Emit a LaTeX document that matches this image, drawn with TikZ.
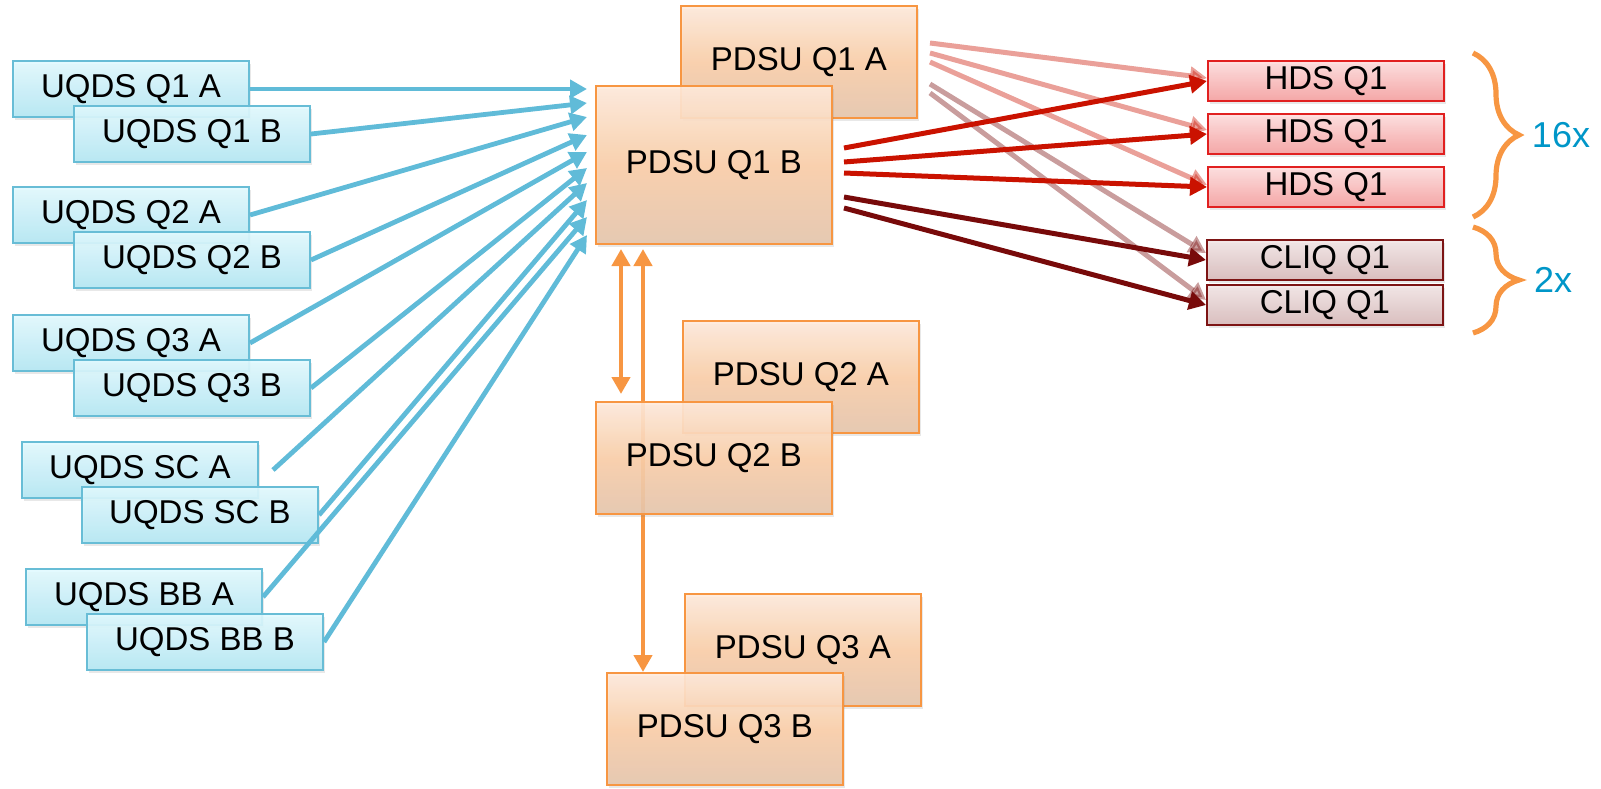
\documentclass[tikz,border=0pt]{standalone}
\usepackage{fontspec}
\setmainfont{Liberation Sans}
\usepackage{tikz}
\usetikzlibrary{arrows.meta,calc,positioning,shadows,backgrounds,decorations.pathreplacing}

\definecolor{uqtop}{RGB}{226,250,255}
\definecolor{uqbot}{RGB}{180,232,244}
\definecolor{uqedge}{RGB}{104,189,214}
\definecolor{uqline}{RGB}{96,187,216}
\definecolor{pdtop}{RGB}{255,235,220}
\definecolor{pdmid}{RGB}{251,206,168}
\definecolor{pdbot}{RGB}{230,198,172}
\definecolor{pdedge}{RGB}{247,150,66}
\definecolor{hdtop}{RGB}{255,222,222}
\definecolor{hdbot}{RGB}{246,160,160}
\definecolor{hdedge}{RGB}{225,32,32}
\definecolor{cqtop}{RGB}{243,230,230}
\definecolor{cqbot}{RGB}{216,186,186}
\definecolor{cqedge}{RGB}{125,20,20}
\definecolor{redline}{RGB}{202,18,0}
\definecolor{darkline}{RGB}{120,10,10}
\definecolor{cnttext}{RGB}{0,150,200}

\tikzset{
  box/.style={draw,line width=1pt,inner sep=0pt,fill opacity=0.9,text opacity=1,
              font=\fontsize{16.5}{19}\selectfont,
              drop shadow={opacity=0.18,shadow xshift=1.2pt,shadow yshift=-1.5pt}},
  uqds/.style={box,draw=uqedge,top color=uqtop,bottom color=uqbot,
               minimum width=118pt,minimum height=28pt},
  pdsu/.style={box,draw=pdedge,top color=pdtop,bottom color=pdbot,middle color=pdmid,
               minimum width=118pt,minimum height=56pt},
  hds/.style={box,draw=hdedge,top color=hdtop,bottom color=hdbot,
              minimum width=118pt,minimum height=20pt},
  cliq/.style={box,draw=cqedge,top color=cqtop,bottom color=cqbot,
               minimum width=118pt,minimum height=20pt},
  tip/.style={-{Triangle[length=8.5pt,width=9pt]}},
  uqarrow/.style={tip,uqline,line width=2.4pt},
  redarrow/.style={tip,redline,line width=2.5pt},
  darkarrow/.style={tip,darkline,line width=2.5pt},
  linkarrow/.style={{Triangle[length=8.5pt,width=9pt]}-{Triangle[length=8.5pt,width=9pt]},
                    pdedge,line width=2.4pt},
  brc/.style={decorate,decoration={brace,amplitude=23pt},pdedge,line width=2.6pt},
  cnt/.style={cnttext,font=\fontsize{18}{21}\selectfont}
}

\begin{document}
\begin{tikzpicture}[x=0.5pt,y=-0.5pt]
\useasboundingbox (0,0) rectangle (1601,788);
%
% UQDS boards
  \node[uqds] (q1a) at (131,89)  {UQDS Q1 A} ;
  \node[uqds] (q1b) at (192,134) {UQDS Q1 B} ;
  \node[uqds] (q2a) at (131,215) {UQDS Q2 A} ;
  \node[uqds] (q2b) at (192,260) {UQDS Q2 B} ;
  \node[uqds] (q3a) at (131,343) {UQDS Q3 A} ;
  \node[uqds] (q3b) at (192,388) {UQDS Q3 B} ;
  \node[uqds] (sca) at (140,470) {UQDS SC A} ;
  \node[uqds] (scb) at (200,515) {UQDS SC B} ;
  \node[uqds] (bba) at (144,597) {UQDS BB A} ;
  \node[uqds] (bbb) at (205,642) {UQDS BB B} ;
%
% PDSU crates
  \node[pdsu] (p1a) at (799,62) {PDSU Q1 A} ;
  \node[pdsu,minimum height=79pt] (p1b) at (714,165) {PDSU Q1 B} ;
  \node[pdsu] (p2a) at (801,377) {PDSU Q2 A} ;
  \node[pdsu] (p2b) at (714,458) {PDSU Q2 B} ;
  \node[pdsu] (p3a) at (803,650) {PDSU Q3 A} ;
  \node[pdsu] (p3b) at (725,729) {PDSU Q3 B} ;
%
% heaters and CLIQ
  \node[hds]  (h1) at (1326,81)  {HDS Q1} ;
  \node[hds]  (h2) at (1326,134) {HDS Q1} ;
  \node[hds]  (h3) at (1326,187) {HDS Q1} ;
  \node[cliq] (c1) at (1325,260) {CLIQ Q1} ;
  \node[cliq] (c2) at (1325,305) {CLIQ Q1} ;
%
% UQDS -> PDSU Q1 B
  \foreach \y [count=\i] in {89,103,117,135,152,168,183,200,217,235}
    \coordinate (t\i) at (587,\y) ;
  \foreach \s/\i in {q1a/1,q1b/2,q2a/3,q2b/4,q3a/5,q3b/6,scb/8,bba/9,bbb/10}
    \draw [uqarrow] (\s.east) -- (t\i) ;
  \draw [uqarrow] ([xshift=7pt]sca.east) -- (t7) ;
%
% PDSU Q1 A -> heaters (faded)
  \begin{scope}[opacity=0.4]
    \draw [redarrow]  ($(p1a.east)+(12,-19)$) -- ($(h1.west)+(0,-3)$) ;
    \draw [redarrow]  ($(p1a.east)+(12,-9)$)  -- ($(h2.west)+(0,-4)$) ;
    \draw [redarrow]  ($(p1a.east)+(12,0)$)   -- ($(h3.west)+(0,-2)$) ;
    \draw [darkarrow] ($(p1a.east)+(12,22)$)  -- ($(c1.west)+(0,-7)$) ;
    \draw [darkarrow] ($(p1a.east)+(12,31)$)  -- ($(c2.west)+(0,-5)$) ;
  \end{scope}
%
% PDSU Q1 B -> heaters
  \draw [redarrow]  ($(p1b.east)+(11,-17)$) -- (h1.west) ;
  \draw [redarrow]  ($(p1b.east)+(11,-3)$)  -- (h2.west) ;
  \draw [redarrow]  ($(p1b.east)+(11,8)$)   -- (h3.west) ;
  \draw [darkarrow] ($(p1b.east)+(11,32)$)  -- (c1.west) ;
  \draw [darkarrow] ($(p1b.east)+(11,43)$)  -- (c2.west) ;
%
% links between PDSU
  \draw [linkarrow,shorten <=2pt,shorten >=3.5pt]
    ([xshift=13pt]p1b.south west) -- ([xshift=13pt]p1b.south west |- p2b.north) ;
  \begin{scope}[on background layer]
    \draw [linkarrow,shorten <=2pt]
      ([xshift=24pt]p1b.south west) -- ([xshift=24pt]p1b.south west |- p3b.north) ;
  \end{scope}
%
% multiplicities
  \draw [brc] (1473,53) -- (1473,217) ;
  \draw [brc] (1473,227) -- (1473,333) ;
  \node[cnt] (n16) at (1561,135) {16x} ;
  \node[cnt] (n2)  at (1553,280) {2x} ;
%
\end{tikzpicture}
\end{document}
